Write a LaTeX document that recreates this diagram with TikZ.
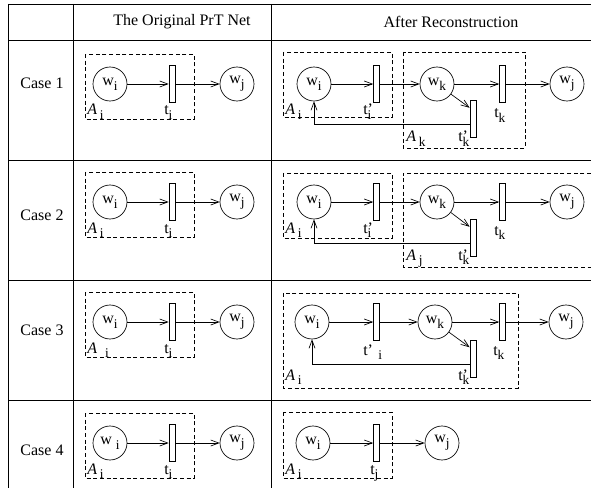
\documentclass[tikz,border=0pt]{standalone}
\usepackage{fontspec}
\setmainfont{Liberation Serif}
\usetikzlibrary{arrows.meta,calc,positioning}
\newcommand{\lsub}[1]{\raisebox{-0.65ex}{\fontsize{10}{10}\selectfont #1}}

\begin{document}
\begin{tikzpicture}[x=0.75pt,y=-0.75pt,
  every node/.style={font=\fontsize{12}{14}\selectfont},
  place/.style={circle,draw,line width=0.5pt,minimum size=25.5pt,inner sep=0pt},
  trans/.style={rectangle,draw,line width=0.5pt,minimum width=4.5pt,minimum height=27.5pt,inner sep=0pt},
  region/.style={draw,line width=0.5pt,dash pattern=on 3pt off 2pt},
  arc/.style={line width=0.5pt,-{Straight Barb[length=6pt,width=4.5pt]}},
  grid/.style={line width=0.7pt},
  lbl/.style={anchor=base west,inner sep=0pt}]
\useasboundingbox (0,0) rectangle (591,488);
% Table
\foreach \y in {4,40,160,280,400} {
  \draw[grid] (8,\y) -- (591,\y);
}
\foreach \x in {8,73,271} {
  \draw[grid] (\x,4) -- (\x,488);
}
\node (hdorig) at (182,22) {The Original PrT Net};
\node (hdafter) at (451,22) {After Reconstruction};
% Original nets, one per row
\foreach \r/\c/\cy/\wl/\al in {1/84/83/{w\lsub{i}}/{\textit{A}\,\lsub{i}},
    2/202/215/{w\lsub{i}}/{\textit{A}\,\lsub{i}},
    3/322/330/{w\lsub{i}}/{\textit{A}\hspace{6pt}\lsub{i}},
    4/443/450/{w\hspace{3pt}\lsub{i}}/{\textit{A}\,\lsub{i}}} {
  \node (case\r) at (42,\cy) {Case \r};
  \draw[region] (85,\c-30) rectangle (194,\c+35);
  \node[place] (wi\r) at (110,\c) {\wl};
  \node[trans] (ti\r) at (172,\c) {};
  \node[place] (wj\r) at (237,\c) {w\lsub{j}};
  \draw[arc] (wi\r) -- (ti\r);
  \draw[arc] (ti\r) -- (wj\r);
  \node[lbl] (ai\r) at (87,\c+31) {\al};
  \node[lbl] (tl\r) at (164,\c+31) {t\lsub{i}};
}
% Case 1 after reconstruction
\draw[region] (283,52) rectangle (392,117);
\draw[region] (403,52) rectangle (525,148);
\node[place] (wiA) at (314,84) {w\lsub{i}};
\node[trans] (tpiA) at (376.5,84) {};
\node[place] (wkA) at (437,84) {w\lsub{k}};
\node[trans] (tkA) at (502.5,84) {};
\node[place] (wjA) at (567,84) {w\lsub{j}};
\node[trans] (tpkA) at (473,119) {};
\draw[arc] (wiA) -- (tpiA);
\draw[arc] (tpiA) -- (wkA);
\draw[arc] (wkA) -- (tkA);
\draw[arc] (tkA) -- (wjA);
\draw[arc] (wkA) -- ($(tpkA.north west)!0.2!(tpkA.south west)$);
\draw[arc] ($(tpkA.south west)!0.35!(tpkA.north west)$) -| (wiA.south);
\node[lbl] (laiA) at (285,115) {\textit{A}\,\lsub{i}};
\node[lbl] (ltpiA) at (363,115) {t\rlap{'}\lsub{i}};
\node[lbl] (ltkA) at (494,118) {t\lsub{k}};
\node[lbl] (lakA) at (406,142) {\textit{A}\,\lsub{k}};
\node[lbl] (ltpkA) at (458,142) {t\rlap{'}\lsub{k}};
% Case 2 after reconstruction
\draw[region] (283,173) rectangle (392,238);
\draw[region] (591,173) -- (403,173) -- (403,267) -- (591,267);
\node[place] (wiB) at (314,202) {w\lsub{i}};
\node[trans] (tpiB) at (376.5,202) {};
\node[place] (wkB) at (437,202) {w\lsub{k}};
\node[trans] (tkB) at (502.5,202) {};
\node[place] (wjB) at (567,202) {w\lsub{j}};
\node[trans] (tpkB) at (473,238) {};
\draw[arc] (wiB) -- (tpiB);
\draw[arc] (tpiB) -- (wkB);
\draw[arc] (wkB) -- (tkB);
\draw[arc] (tkB) -- (wjB);
\draw[arc] (wkB) -- ($(tpkB.north west)!0.2!(tpkB.south west)$);
\draw[arc] ($(tpkB.south west)!0.35!(tpkB.north west)$) -| (wiB.south);
\node[lbl] (laiB) at (285,233) {\textit{A}\,\lsub{i}};
\node[lbl] (ltpiB) at (363,233) {t\rlap{'}\lsub{i}};
\node[lbl] (ltkB) at (494,235) {t\lsub{k}};
\node[lbl] (lajB) at (406,260) {\textit{A}\,\lsub{j}};
\node[lbl] (ltpkB) at (458,260) {t\rlap{'}\lsub{k}};
% Case 3 after reconstruction
\draw[region] (283,293) rectangle (518,388);
\node[place] (wiC) at (312,322) {w\lsub{i}};
\node[trans] (tpiC) at (376.5,322) {};
\node[place] (wkC) at (435,322) {w\lsub{k}};
\node[trans] (tkC) at (502.5,322) {};
\node[place] (wjC) at (566,322) {w\lsub{j}};
\node[trans] (tpkC) at (473,358.5) {};
\draw[arc] (wiC) -- (tpiC);
\draw[arc] (tpiC) -- (wkC);
\draw[arc] (wkC) -- (tkC);
\draw[arc] (tkC) -- (wjC);
\draw[arc] (wkC) -- ($(tpkC.north west)!0.2!(tpkC.south west)$);
\draw[arc] ($(tpkC.south west)!0.35!(tpkC.north west)$) -| (wiC.south);
\node[lbl] (ltpiC) at (363,355) {t'\hspace{4pt}\lsub{i}};
\node[lbl] (ltkC) at (493,355) {t\lsub{k}};
\node[lbl] (laiC) at (285,380) {\textit{A}\,\lsub{i}};
\node[lbl] (ltpkC) at (458,380) {t\rlap{'}\lsub{k}};
% Case 4 after reconstruction
\draw[region] (283,412) rectangle (392,478);
\node[place] (wiD) at (313,443) {w\lsub{i}};
\node[trans] (tjD) at (376.5,443) {};
\node[place] (wjD) at (442,443) {w\lsub{j}};
\draw[arc] (wiD) -- (tjD);
\draw[arc] (tjD) -- (wjD);
\node[lbl] (laiD) at (285,474) {\textit{A}\,\lsub{i}};
\node[lbl] (ltjD) at (370,474) {t\lsub{j}};
\end{tikzpicture}
\end{document}
